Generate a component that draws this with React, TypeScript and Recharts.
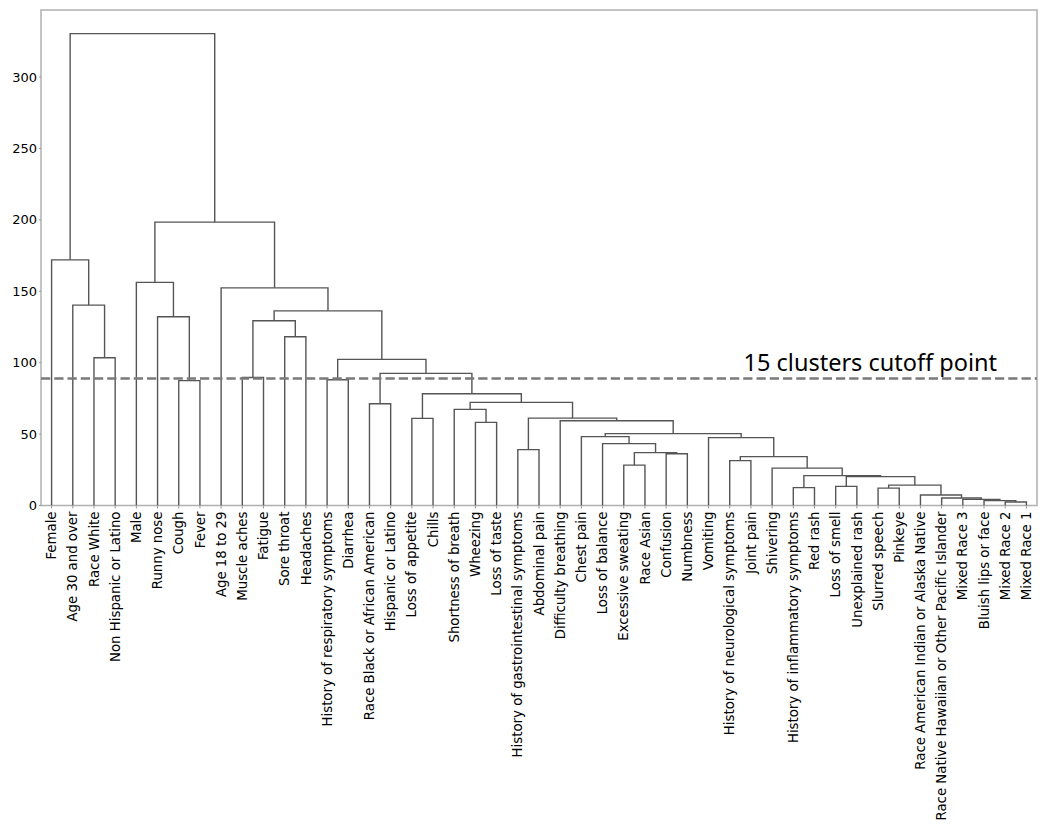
import React from "react";
import {
  ComposedChart,
  Line,
  XAxis,
  YAxis,
  ReferenceLine,
  ReferenceArea,
} from "recharts";

const leaves = [
  "Female",
  "Age 30 and over",
  "Race White",
  "Non Hispanic or Latino",
  "Male",
  "Runny nose",
  "Cough",
  "Fever",
  "Age 18 to 29",
  "Muscle aches",
  "Fatigue",
  "Sore throat",
  "Headaches",
  "History of respiratory symptoms",
  "Diarrhea",
  "Race Black or African American",
  "Hispanic or Latino",
  "Loss of appetite",
  "Chills",
  "Shortness of breath",
  "Wheezing",
  "Loss of taste",
  "History of gastrointestinal symptoms",
  "Abdominal pain",
  "Difficulty breathing",
  "Chest pain",
  "Loss of balance",
  "Excessive sweating",
  "Race Asian",
  "Confusion",
  "Numbness",
  "Vomiting",
  "History of neurological symptoms",
  "Joint pain",
  "Shivering",
  "History of inflammatory symptoms",
  "Red rash",
  "Loss of smell",
  "Unexplained rash",
  "Slurred speech",
  "Pinkeye",
  "Race American Indian or Alaska Native",
  "Race Native Hawaiian or Other Pacific Islander",
  "Mixed Race 3",
  "Bluish lips or face",
  "Mixed Race 2",
  "Mixed Race 1",
];

// scipy-style linkage: [left, right, height]; ids >= 47 are earlier merges (47 = first row)
const linkage: [number, number, number][] = [
  [45, 46, 2.5], // 47
  [44, 47, 3.4], // 48
  [43, 48, 4.3], // 49
  [42, 49, 5.2], // 50
  [41, 50, 7.3], // 51
  [39, 40, 12.2], // 52
  [35, 36, 12.5], // 53
  [37, 38, 13.4], // 54
  [52, 51, 14.3], // 55
  [54, 55, 20.2], // 56
  [53, 56, 20.9], // 57
  [34, 57, 26.2], // 58
  [27, 28, 28.3], // 59
  [32, 33, 31.4], // 60
  [60, 58, 34.2], // 61
  [29, 30, 36.2], // 62
  [59, 62, 37.0], // 63
  [22, 23, 39.1], // 64
  [26, 63, 43.3], // 65
  [31, 61, 47.5], // 66
  [25, 65, 48.2], // 67
  [67, 66, 50.3], // 68
  [20, 21, 58.2], // 69
  [24, 68, 59.3], // 70
  [64, 70, 61.2], // 71
  [17, 18, 61.0], // 72
  [19, 69, 67.3], // 73
  [15, 16, 71.2], // 74
  [73, 71, 72.2], // 75
  [72, 75, 78.2], // 76
  [6, 7, 87.4], // 77
  [13, 14, 88.0], // 78
  [9, 10, 89.6], // 79
  [74, 76, 92.5], // 80
  [78, 80, 102.3], // 81
  [2, 3, 103.4], // 82
  [11, 12, 118.1], // 83
  [79, 83, 129.3], // 84
  [5, 77, 132.1], // 85
  [84, 81, 136.3], // 86
  [1, 82, 140.3], // 87
  [8, 86, 152.4], // 88
  [4, 85, 156.2], // 89
  [0, 87, 172.0], // 90
  [89, 88, 198.4], // 91
  [90, 91, 330.4], // 92
];

const yTicks = [0, 50, 100, 150, 200, 250, 300];
const cutoff = 89;
const cutoffText = "15 clusters cutoff point";

const yMax = linkage[linkage.length - 1][2] * 1.05;
const leafTicks = leaves.map((_, i) => i);

// one U-shaped link per merge, x from leaf order, y from merge heights
function buildLinks() {
  const pos: number[] = leaves.map((_, i) => i);
  const hgt: number[] = leaves.map(() => 0);
  return linkage.map(([a, b, h], k) => {
    const id = leaves.length + k;
    pos[id] = (pos[a] + pos[b]) / 2;
    hgt[id] = h;
    return [
      { x: pos[a], y: hgt[a] },
      { x: pos[a], y: h },
      { x: pos[b], y: h },
      { x: pos[b], y: hgt[b] },
    ];
  });
}

const links = buildLinks();

const FONT = "'DejaVu Sans', sans-serif";

const LeafTick = (props: any) => {
  const { x, y, payload } = props;
  return (
    <text
      x={x}
      y={y}
      dy="0.35em"
      transform={`rotate(-90, ${x}, ${y})`}
      textAnchor="end"
      fontSize={13.3}
      fontFamily={FONT}
      fill="#000"
    >
      {leaves[payload.value]}
    </text>
  );
};

const CutoffLabel = (props: any) => {
  const vb = props.viewBox || {};
  return (
    <text
      x={vb.x + vb.width - 40}
      y={vb.y - 7}
      textAnchor="end"
      fontSize={23.5}
      fontFamily="'Noto Sans', sans-serif"
      fill="#000"
    >
      {cutoffText}
    </text>
  );
};

export default function App(): React.ReactElement {
  return (
    <ComposedChart
      width={1042}
      height={816}
      margin={{ top: 2, right: 13, bottom: 0, left: 0 }}
    >
      <XAxis
        dataKey="x"
        type="number"
        domain={[-0.5, leaves.length - 0.5]}
        ticks={leafTicks}
        interval={0}
        tick={<LeafTick />}
        tickSize={3}
        tickMargin={3}
        tickLine={{ stroke: "#999" }}
        axisLine={false}
        height={318.5}
        allowDataOverflow
      />
      <YAxis
        type="number"
        domain={[0, yMax]}
        ticks={yTicks}
        width={33}
        tickSize={2}
        tickMargin={2}
        tickLine={{ stroke: "#999" }}
        axisLine={false}
        tick={{ fontSize: 13, fontFamily: FONT, fill: "#000" }}
        allowDataOverflow
      />
      <ReferenceArea
        x1={-0.5}
        x2={leaves.length - 0.5}
        y1={0}
        y2={yMax}
        fill="none"
        fillOpacity={0}
        stroke="#b0b0b0"
        strokeWidth={1.5}
      />
      {links.map((pts, i) => (
        <Line
          key={`link-${i}`}
          data={pts}
          dataKey="y"
          type="linear"
          stroke="#555"
          strokeWidth={1.4}
          dot={false}
          activeDot={false}
          isAnimationActive={false}
        />
      ))}
      <ReferenceLine
        y={cutoff}
        stroke="#7a7a7a"
        strokeWidth={2.5}
        strokeDasharray="9.25 4"
        label={<CutoffLabel />}
      />
    </ComposedChart>
  );
}
